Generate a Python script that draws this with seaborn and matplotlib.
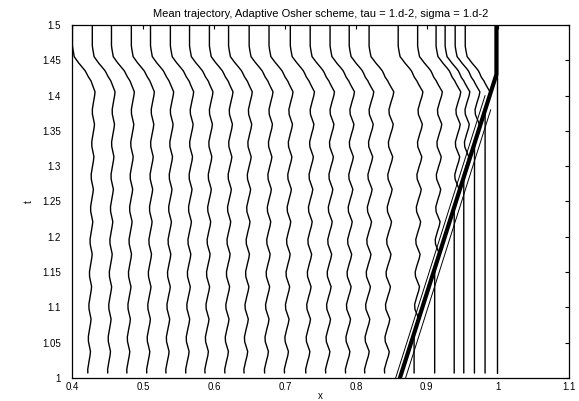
import numpy as np
import pandas as pd
import matplotlib
matplotlib.use("Agg")
import matplotlib.pyplot as plt
import seaborn as sns

# ---- data -------------------------------------------------------------
title = "Mean trajectory, Adaptive Osher scheme, tau = 1.d-2, sigma = 1.d-2"

# starting positions (t = 1) of the paths left of the front
x_start_left = [0.422, 0.450, 0.477, 0.505, 0.532, 0.560, 0.587, 0.615,
                0.642, 0.671, 0.699, 0.729, 0.757, 0.785, 0.812, 0.840]
# starting positions right of the front (at rest until the front arrives)
x_start_right = [0.882, 0.911, 0.9385, 0.952, 0.967, 0.982, 0.999]

# front position
front_t = [1.0, 1.43, 1.5]
front_x = [0.862, 0.998, 0.998]
# thin strands running alongside the front
strand_lo_t, strand_lo_x = [1.0, 1.40], [0.856, 0.982]
strand_hi_t, strand_hi_x = [1.0, 1.38], [0.870, 0.990]

# one oscillation cycle of a mean path (fraction of cycle -> relative offset)
cycle_len = 0.046
cycle_t0 = 1.012
cycle_frac = [0.0, 0.2, 0.4, 0.55, 0.7, 0.85, 1.0]
cycle_shape = [0.0, 0.35, 0.8, 1.0, 0.55, 0.1, 0.0]
amp_left, amp_right = 0.0035, 0.0065

# slow drift to the right (per unit time)
drift_rate = 0.0175

# late jump to the left
jump_t = [1.405, 1.42, 1.435, 1.445, 1.455, 1.47]
jump_frac = [0.0, 0.08, 0.4, 0.7, 0.92, 1.0]
jump_dx = -0.029

x_ticks = [0.4, 0.5, 0.6, 0.7, 0.8, 0.9, 1.0, 1.1]
x_tick_labels = ["0.4", "0.5", "0.6", "0.7", "0.8", "0.9", "1", "1.1"]
y_ticks = [1.0, 1.05, 1.1, 1.15, 1.2, 1.25, 1.3, 1.35, 1.4, 1.45, 1.5]
y_tick_labels = ["1", "1.05", "1.1", "1.15", "1.2", "1.25", "1.3", "1.35",
                 "1.4", "1.45", "1.5"]

# ---- build path table --------------------------------------------------
t_grid = np.linspace(1.007, 1.5, 1001)
shock_at = np.interp(t_grid, front_t, front_x)
jump = np.interp(t_grid, jump_t, jump_frac)


def oscillation(t, x0):
    amp = amp_left + (amp_right - amp_left) * np.clip((x0 - 0.42) / 0.42, 0, 1)
    phase = ((t - cycle_t0) / cycle_len) % 1.0
    return amp * np.interp(phase, cycle_frac, cycle_shape)


rows = []
pid = 0
for x0 in x_start_left + x_start_right:
    # time when the front passes this path (start time for paths behind it)
    behind = shock_at >= x0
    t_hit = t_grid[np.argmax(behind)] if behind.any() else 2.0
    active = t_grid >= t_hit
    x = np.full_like(t_grid, x0)
    x[active] += drift_rate * (np.minimum(t_grid[active], 1.44) - t_hit)
    x[active] += oscillation(t_grid[active], x0) * (1.0 - jump[active])
    x += jump_dx * jump * active
    rows.append(pd.DataFrame({"x": x, "t": t_grid, "path": pid}))
    pid += 1
paths = pd.concat(rows, ignore_index=True)

front = pd.DataFrame({"x": front_x, "t": front_t})
strand_lo = pd.DataFrame({"x": strand_lo_x, "t": strand_lo_t})
strand_hi = pd.DataFrame({"x": strand_hi_x, "t": strand_hi_t})

# ---- draw ---------------------------------------------------------------
sns.set_theme(style="white")
plt.rcParams["font.family"] = ["Liberation Sans", "DejaVu Sans"]

fig = plt.figure(figsize=(5.79, 4.01), dpi=100)
ax = fig.add_axes([0.1244, 0.0574, 0.8580, 0.8803])

line_kw = dict(sort=False, estimator=None, color="black", ax=ax, legend=False)
sns.lineplot(data=paths, x="x", y="t", units="path", linewidth=1.0, **line_kw)
sns.lineplot(data=strand_lo, x="x", y="t", linewidth=0.7, **line_kw)
sns.lineplot(data=strand_hi, x="x", y="t", linewidth=0.7, **line_kw)
sns.lineplot(data=front, x="x", y="t", linewidth=3.0, **line_kw)

ax.set_xlim(0.4, 1.1)
ax.set_ylim(1.0, 1.5)
ax.set_xticks(x_ticks)
ax.set_xticklabels(x_tick_labels)
ax.set_yticks(y_ticks)
ax.set_yticklabels(y_tick_labels)
ax.tick_params(direction="in", top=True, right=True, length=3, width=0.8,
               labelsize=7, color="black", labelcolor="black")
ax.tick_params(axis="y", pad=8)
ax.tick_params(axis="x", pad=3)
for s in ax.spines.values():
    s.set_color("black")
    s.set_linewidth(0.9)

ax.set_xlabel("x", fontsize=7, labelpad=-1, color="black")
ax.set_ylabel("t", fontsize=7, labelpad=6, color="black")
ax.set_title(title, fontsize=8, pad=6, color="black")

fig.savefig("out.png", dpi=100)
